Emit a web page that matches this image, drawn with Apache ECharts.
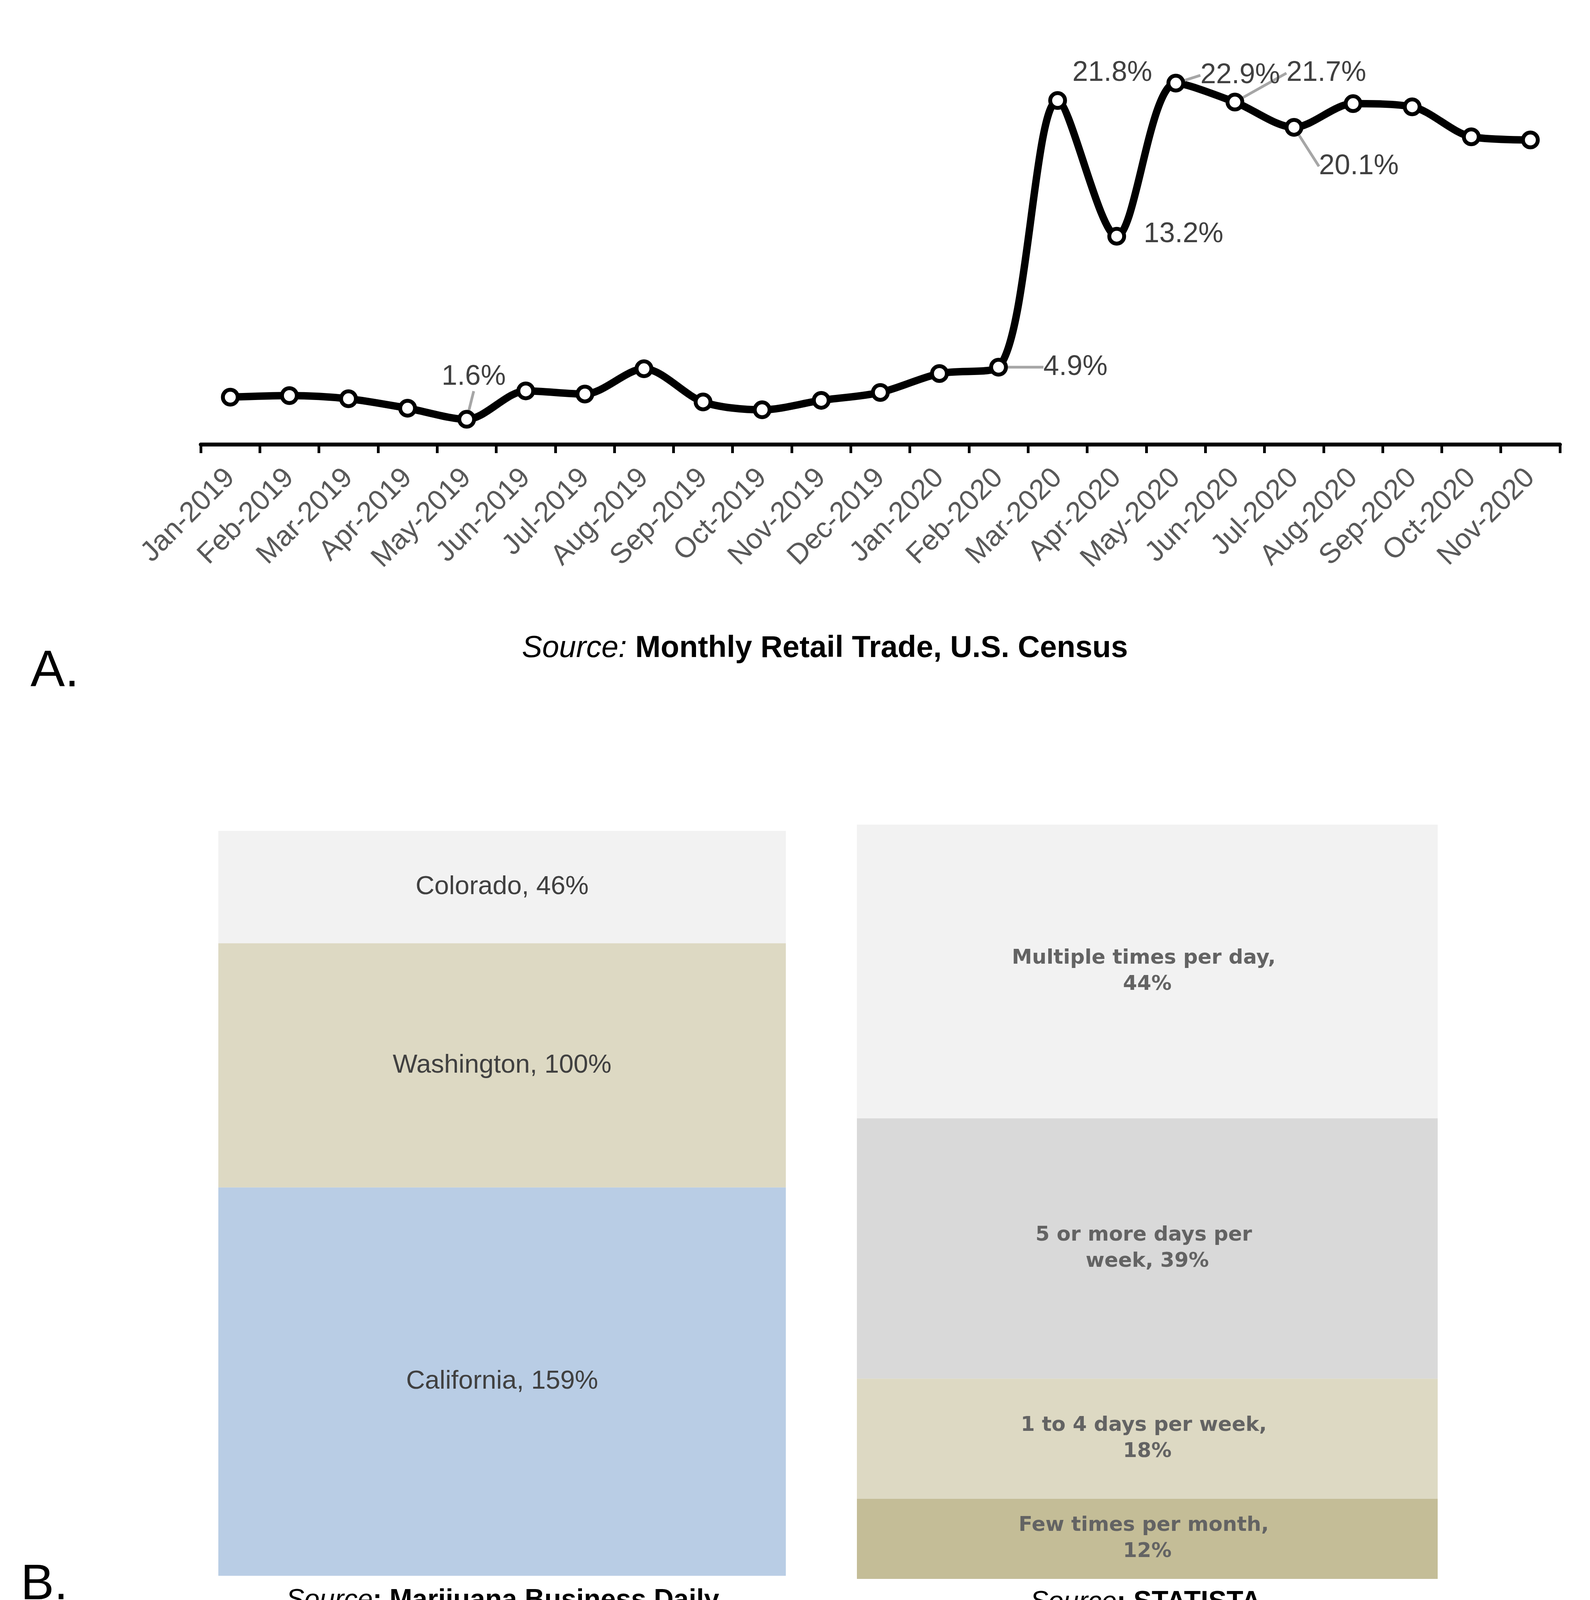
<!DOCTYPE html>
<html>
<head>
<meta charset="utf-8">
<script src="https://cdn.jsdelivr.net/npm/echarts@6/dist/echarts.min.js"></script>
<style>
html,body{margin:0;padding:0;background:#fff;}
#chart{width:4071px;height:4217px;}
</style>
</head>
<body>
<div id="chart"></div>
<script>
// ---- Data ----
const months = ['Jan-2019','Feb-2019','Mar-2019','Apr-2019','May-2019','Jun-2019','Jul-2019','Aug-2019','Sep-2019','Oct-2019','Nov-2019','Dec-2019','Jan-2020','Feb-2020','Mar-2020','Apr-2020','May-2020','Jun-2020','Jul-2020','Aug-2020','Sep-2020','Oct-2020','Nov-2020'];
const growth = [3.0, 3.1, 2.9, 2.3, 1.6, 3.4, 3.2, 4.8, 2.7, 2.2, 2.8, 3.3, 4.5, 4.9, 21.8, 13.2, 22.9, 21.7, 20.1, 21.6, 21.4, 19.5, 19.3];
const labelledMonths = ['May-2019','Feb-2020','Mar-2020','Apr-2020','May-2020','Jun-2020','Jul-2020'];

const states = ['California','Washington','Colorado'];
const stateValues = [159, 100, 46];

const usage = ['Few times per month','1 to 4 days per week','5 or more days per week','Multiple times per day'];
const usageValues = [12, 18, 39, 44];

// ---- Styles (label placement relative to points, colours) ----
const labelPlace = {
  'May-2019': {dx: 18, dy: -108, line: true},
  'Feb-2020': {dx: 197, dy: 0, line: true},
  'Mar-2020': {dx: 140, dy: -70, line: false},
  'Apr-2020': {dx: 171, dy: -5, line: false},
  'May-2020': {dx: 165, dy: -20, line: true},
  'Jun-2020': {dx: 234, dy: -74, line: true},
  'Jul-2020': {dx: 166, dy: 100, line: true}
};
const stateColors = ['#b9cde5', '#ddd9c3', '#f2f2f2'];
const usageColors = ['#c4bd97', '#ddd9c3', '#d9d9d9', '#f2f2f2'];

const chart = echarts.init(document.getElementById('chart'), null, {renderer: 'canvas'});

const lineData = growth.map((v, i) => {
  const m = months[i];
  const lab = labelledMonths.indexOf(m) >= 0;
  return {
    value: v,
    label: {show: lab},
    labelLine: {show: lab && labelPlace[m].line}
  };
});

const sum = a => a.reduce((s, x) => s + x, 0);

const series = [{
  type: 'line',
  xAxisIndex: 0, yAxisIndex: 0,
  data: lineData,
  smooth: 0.3,
  symbol: 'circle',
  symbolSize: 38,
  showAllSymbol: true,
  lineStyle: {color: '#000', width: 19},
  itemStyle: {color: '#fff', borderColor: '#000', borderWidth: 10},
  z: 3,
  label: {
    show: false,
    position: 'inside',
    fontFamily: 'Liberation Sans',
    fontSize: 72,
    color: '#404040',
    formatter: p => p.value.toFixed(1) + '%'
  },
  labelLine: {show: false, lineStyle: {color: '#a6a6a6', width: 7}},
  labelLayout: function (params) {
    const m = months[params.dataIndex];
    const pl = labelPlace[m];
    if (!pl) return {};
    const r = params.rect;
    return {
      x: r.x + r.width / 2 + pl.dx,
      y: r.y + r.height / 2 + pl.dy,
      align: 'center',
      verticalAlign: 'middle'
    };
  }
}];

states.forEach((s, i) => {
  series.push({
    type: 'bar', name: s, stack: 'states',
    xAxisIndex: 1, yAxisIndex: 1,
    barWidth: '100%',
    data: [stateValues[i]],
    itemStyle: {color: stateColors[i]},
    label: {
      show: true, position: 'inside',
      fontFamily: 'Liberation Sans', fontSize: 67, color: '#404040',
      formatter: p => p.seriesName + ', ' + p.value + '%'
    }
  });
});

usage.forEach((s, i) => {
  series.push({
    type: 'bar', name: s, stack: 'usage',
    xAxisIndex: 2, yAxisIndex: 2,
    barWidth: '100%',
    data: [usageValues[i]],
    itemStyle: {color: usageColors[i]},
    label: {
      show: true, position: 'inside',
      fontFamily: 'DejaVu Sans', fontWeight: 'bold', fontSize: 52, color: '#636363',
      lineHeight: 67, width: 700, overflow: 'break', align: 'center',
      formatter: p => p.seriesName + ', ' + p.value + '%'
    }
  });
});

const srcRich = (size, family) => ({
  i: {fontStyle: 'italic', fontWeight: 'normal', fontSize: size, fontFamily: family, fill: '#000'},
  b: {fontWeight: 'bold', fontSize: size, fontFamily: family, fill: '#000'}
});

const option = {
  backgroundColor: '#fff',
  animation: false,
  grid: [
    {left: 514, top: 128, width: 3480, height: 1010},
    {left: 559, top: 2127, width: 1453, height: 1907},
    {left: 2194, top: 2111, width: 1487, height: 1931}
  ],
  xAxis: [
    {
      gridIndex: 0, type: 'category', data: months, boundaryGap: true,
      axisLine: {show: true, lineStyle: {color: '#000', width: 10}},
      axisTick: {show: true, length: 22, lineStyle: {color: '#000', width: 7}},
      axisLabel: {rotate: 45, interval: 0, margin: 74, fontSize: 73, color: '#595959', fontFamily: 'Liberation Sans'},
      splitLine: {show: false}
    },
    {gridIndex: 1, type: 'category', data: ['states'], show: false},
    {gridIndex: 2, type: 'category', data: ['usage'], show: false}
  ],
  yAxis: [
    {gridIndex: 0, type: 'value', min: 0, max: 25, show: false, splitLine: {show: false}},
    {gridIndex: 1, type: 'value', min: 0, max: sum(stateValues), show: false, splitLine: {show: false}},
    {gridIndex: 2, type: 'value', min: 0, max: sum(usageValues), show: false, splitLine: {show: false}}
  ],
  series: series,
  graphic: [
    {type: 'text', left: 78, top: 1655, style: {text: 'A.', fontFamily: 'Liberation Sans', fontSize: 132, fill: '#000'}},
    {type: 'text', left: 53, top: 3995, style: {text: 'B.', fontFamily: 'Liberation Sans', fontSize: 128, fill: '#000'}},
    {type: 'text', x: 2112, y: 1660, style: {
      text: '{i|Source: }{b|Monthly Retail Trade, U.S. Census}',
      rich: srcRich(78, "'Liberation Sans Narrow', 'Liberation Sans'"),
      align: 'center', verticalAlign: 'middle'}},
    {type: 'text', x: 1287, y: 4098, style: {
      text: '{i|Source}{b|: Marijuana Business Daily}',
      rich: srcRich(70, 'Liberation Sans'),
      align: 'center', verticalAlign: 'middle'}},
    {type: 'text', x: 2933, y: 4103, style: {
      text: '{i|Source}{b|: STATISTA}',
      rich: srcRich(70, 'Liberation Sans'),
      align: 'center', verticalAlign: 'middle'}}
  ]
};
chart.setOption(option);
</script>
</body>
</html>
